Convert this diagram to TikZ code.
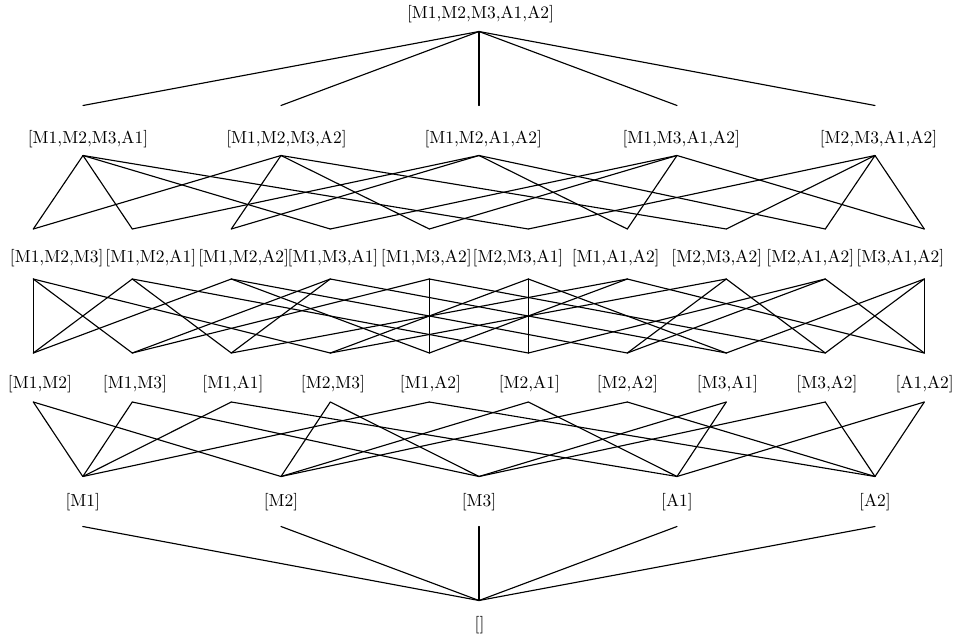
\documentclass[tikz,border=0pt]{standalone}
\begin{document}
\begin{tikzpicture}[x=0.573pt,y=-0.573pt,
  lbl/.style={anchor=base,inner sep=0pt},
  conn/.style={line width=0.65pt,line cap=round}]
\useasboundingbox (0,0) rectangle (954,639);
% top
\node[lbl] (top) at (480.5,18) {[M1,M2,M3,A1,A2]};
\coordinate (top-b) at (479,31.5);
% level 4
\foreach \n/\x/\lx/\t in {q1/83/88/{[M1,M2,M3,A1]},q2/281/286.5/{[M1,M2,M3,A2]},
  q3/479/483.2/{[M1,M2,A1,A2]},q4/677/681.2/{[M1,M3,A1,A2]},q5/875/878.5/{[M2,M3,A1,A2]}}{
  \node[lbl] (\n) at (\lx,143) {\t};
  \coordinate (\n-t) at (\x,105.5);
  \coordinate (\n-b) at (\x,155.5);
}
% level 3
\foreach \n/\x/\lx/\t in {t1/33.3/56.7/{[M1,M2,M3]},t2/132.3/150.8/{[M1,M2,A1]},
  t3/231.3/243.7/{[M1,M2,A2]},t4/330.3/333/{[M1,M3,A1]},t5/429.3/426.3/{[M1,M3,A2]},
  t6/528.3/518/{[M2,M3,A1]},t7/627.3/615.7/{[M1,A1,A2]},t8/726.3/716.8/{[M2,M3,A2]},
  t9/825.3/810.3/{[M2,A1,A2]},t10/924.3/900.3/{[M3,A1,A2]}}{
  \node[lbl] (\n) at (\lx,262.2) {\t};
  \coordinate (\n-t) at (\x,229);
  \coordinate (\n-b) at (\x,279);
}
% level 2
\foreach \n/\x/\lx/\t in {d1/33.3/40/{[M1,M2]},d2/132.3/135/{[M1,M3]},
  d3/231.3/233/{[M1,A1]},d4/330.3/333/{[M2,M3]},d5/429.3/430.5/{[M1,A2]},
  d6/528.3/529.3/{[M2,A1]},d7/627.3/627.5/{[M2,A2]},d8/726.3/727.5/{[M3,A1]},
  d9/825.3/827/{[M3,A2]},d10/924.3/924.7/{[A1,A2]}}{
  \node[lbl] (\n) at (\lx,388) {\t};
  \coordinate (\n-t) at (\x,353);
  \coordinate (\n-b) at (\x,402);
}
% level 1
\foreach \n/\x/\t in {s1/82.8/{[M1]},s2/281/{[M2]},s3/479/{[M3]},s4/677/{[A1]},s5/875/{[A2]}}{
  \node[lbl] (\n) at (\x,506.2) {\t};
  \coordinate (\n-t) at (\x,476.5);
  \coordinate (\n-b) at (\x,526.5);
}
% bottom
\node[lbl] (bot) at (479.5,629.6) {[]};
\coordinate (bot-t) at (479,600.5);
% connectors
\foreach \a in {q1,q2,q3,q4,q5} \draw[conn] (top-b) -- (\a-t);
\foreach \a/\b in {q1/t1,q1/t2,q1/t4,q1/t6,
  q2/t1,q2/t3,q2/t5,q2/t8,
  q3/t2,q3/t3,q3/t7,q3/t9,
  q4/t4,q4/t5,q4/t7,q4/t10,
  q5/t6,q5/t8,q5/t9,q5/t10} \draw[conn] (\a-b) -- (\b-t);
\foreach \a/\b in {t1/d1,t1/d2,t1/d4,
  t2/d1,t2/d3,t2/d6,
  t3/d1,t3/d5,t3/d7,
  t4/d2,t4/d3,t4/d8,
  t5/d2,t5/d5,t5/d9,
  t6/d4,t6/d6,t6/d8,
  t7/d3,t7/d5,t7/d10,
  t8/d4,t8/d7,t8/d9,
  t9/d6,t9/d7,t9/d10,
  t10/d8,t10/d9,t10/d10} \draw[conn] (\a-b) -- (\b-t);
\foreach \a/\b in {d1/s1,d1/s2,d2/s1,d2/s3,d3/s1,d3/s4,d4/s2,d4/s3,d5/s1,d5/s5,
  d6/s2,d6/s4,d7/s2,d7/s5,d8/s3,d8/s4,d9/s3,d9/s5,d10/s4,d10/s5} \draw[conn] (\a-b) -- (\b-t);
\foreach \a in {s1,s2,s3,s4,s5} \draw[conn] (\a-b) -- (bot-t);
\end{tikzpicture}
\end{document}
